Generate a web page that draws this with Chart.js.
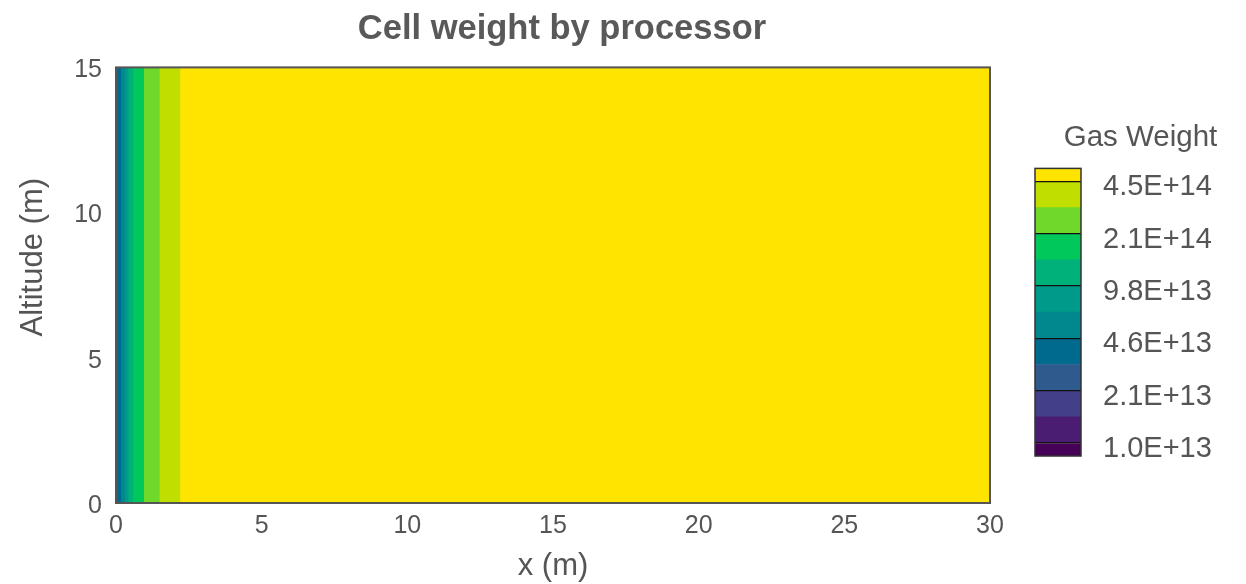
<!DOCTYPE html>
<html><head><meta charset="utf-8">
<script src="https://cdn.jsdelivr.net/npm/chart.js@4.4.0/dist/chart.umd.min.js"></script>
<style>
html,body{margin:0;padding:0;background:#fff;width:1246px;height:584px;overflow:hidden;}
#main{position:absolute;left:0;top:0;}
#cbar{position:absolute;left:1020px;top:0;}
</style></head><body>
<canvas id="main" width="1124" height="584"></canvas>
<canvas id="cbar" width="226" height="584"></canvas>
<script>
// ---- data ----
const xEdges = [0, 0.05, 0.17, 0.30, 0.42, 0.59, 0.96, 1.49, 2.2, 30];
const bandLevels = [3, 4, 5, 6, 7, 8, 9, 10, 11];
const altitudeTop = 15;
const levelColors = ['#460057','#4a1c72','#433f88','#2e5a8e','#006a8e','#00888e','#009a8a','#00b27a','#00c85a','#6fd82a','#c0df00','#ffe400'];
const levelEdges = [-0.5, 0, 1, 2, 3, 4, 5, 6, 7, 8, 9, 10, 10.5];
const levelTickPos = [0, 2, 4, 6, 8, 10];
const levelTickLabels = ['1.0E+13','2.1E+13','4.6E+13','9.8E+13','2.1E+14','4.5E+14'];
const xTicks = [0, 5, 10, 15, 20, 25, 30];
const yTicks = [0, 5, 10, 15];
const yTitle = 'Altitude (m)';

Chart.defaults.font.family = "'Liberation Sans', Arial, sans-serif";
const txt = '#555';

const frame = (color, width) => ({
  id: 'frame',
  afterDraw(chart) {
    const {ctx, chartArea: a} = chart;
    ctx.save();
    ctx.strokeStyle = color; ctx.lineWidth = width;
    ctx.strokeRect(a.left, a.top, a.right - a.left, a.bottom - a.top);
    ctx.restore();
  }
});

const yTitlePlugin = {
  id: 'yTitle',
  afterDraw(chart) {
    const {ctx, chartArea: a} = chart;
    ctx.save();
    ctx.translate(33, (a.top + a.bottom) / 2 - 28);
    ctx.rotate(-Math.PI / 2);
    ctx.fillStyle = txt;
    ctx.font = "31px 'Liberation Sans', Arial, sans-serif";
    ctx.textAlign = 'center';
    ctx.textBaseline = 'middle';
    ctx.fillText(yTitle, 0, 0);
    ctx.restore();
  }
};

new Chart(document.getElementById('main'), {
  type: 'line',
  data: {
    datasets: bandLevels.map((lv, i) => ({
      data: [{x: xEdges[i], y: altitudeTop}, {x: xEdges[xEdges.length - 1], y: altitudeTop}],
      backgroundColor: levelColors[lv],
      borderColor: 'transparent',
      borderWidth: 0,
      pointRadius: 0,
      fill: 'origin',
      tension: 0,
      order: -i
    }))
  },
  options: {
    responsive: false, animation: false, events: [],
    layout: {padding: {left: 0, right: 0, top: 0, bottom: 0}},
    plugins: {
      legend: {display: false}, tooltip: {enabled: false},
      title: {display: true, text: 'Cell weight by processor', color: '#595959',
        font: {size: 34.5, weight: 'bold', lineHeight: 1.2}, padding: {top: 9, bottom: 17}}
    },
    scales: {
      x: {
        type: 'linear', min: 0, max: 30,
        afterBuildTicks: s => { s.ticks = xTicks.map(v => ({value: v})); },
        ticks: {color: txt, font: {size: 25}, padding: 8, maxRotation: 0},
        grid: {display: false, drawTicks: false},
        border: {display: false},
        title: {display: true, text: 'x (m)', color: txt, font: {size: 31, lineHeight: 1.1}, padding: {top: 0, bottom: 0}},
        afterFit: s => { s.height = 81; }
      },
      y: {
        type: 'linear', min: 0, max: 15,
        afterBuildTicks: s => { s.ticks = yTicks.map(v => ({value: v})); },
        ticks: {color: txt, font: {size: 25}, padding: 14, labelOffset: 3},
        grid: {display: false, drawTicks: false},
        border: {display: false},
        title: {display: false},
        afterFit: s => { s.width = 116; }
      },
      yR: {
        type: 'linear', position: 'right', min: 0, max: 15,
        ticks: {display: false},
        grid: {display: false, drawTicks: false},
        border: {display: false},
        afterFit: s => { s.width = 134; }
      }
    }
  },
  plugins: [frame('#555', 2), yTitlePlugin]
});

new Chart(document.getElementById('cbar'), {
  type: 'bar',
  data: {
    labels: [''],
    datasets: levelColors.map((c, i) => ({
      data: [[levelEdges[i], levelEdges[i + 1]]],
      backgroundColor: c, borderWidth: 0,
      barPercentage: 1, categoryPercentage: 1, grouped: false
    }))
  },
  options: {
    responsive: false, animation: false, events: [],
    layout: {padding: {left: 15, right: 0, top: 0, bottom: 128}},
    plugins: {
      legend: {display: false}, tooltip: {enabled: false},
      title: {display: true, text: 'Gas Weight', color: txt,
        font: {size: 29.5, weight: 'normal', lineHeight: 1.2}, padding: {top: 120, bottom: 13}}
    },
    scales: {
      x: {display: false, stacked: true},
      y: {
        position: 'right', min: -0.5, max: 10.5,
        afterBuildTicks: s => { s.ticks = levelTickPos.map(v => ({value: v})); },
        ticks: {
          callback: v => levelTickLabels[levelTickPos.indexOf(v)],
          padding: 22, labelOffset: 6, color: txt, font: {size: 29}
        },
        grid: {color: '#111', lineWidth: 1.2, drawTicks: false, z: 1},
        border: {display: false},
        afterFit: s => { s.width = 165; }
      }
    }
  },
  plugins: [frame('#333', 1.5)]
});
</script>
</body></html>
